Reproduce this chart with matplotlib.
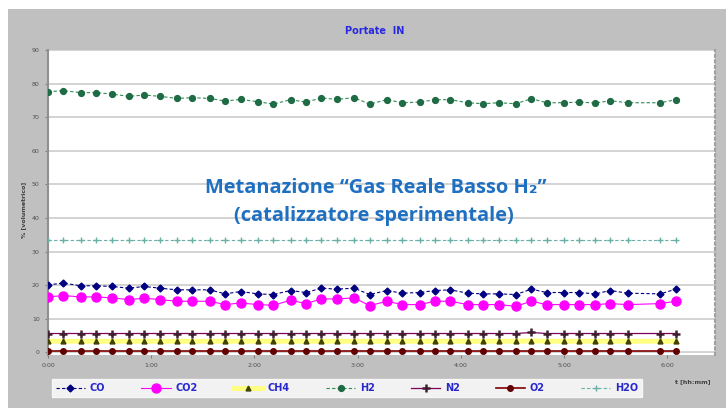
import matplotlib
matplotlib.use("Agg")
import matplotlib.pyplot as plt
from matplotlib.patches import Rectangle
from matplotlib.ticker import FuncFormatter

# sampling times [min] (one sample missing near 5:45)
t_min = [0, 9, 19, 28, 37, 47, 56, 65, 75, 84, 94, 103, 112, 122, 131, 141, 150, 159,
         168, 178, 187, 197, 206, 216, 225, 234, 244, 253, 262, 272, 281, 290, 300, 309,
         318, 327, 337, 356, 365]

co = [20.1, 20.6, 19.8, 19.8, 19.6, 19.1, 19.6, 19.1, 18.6, 18.6, 18.6, 17.4, 18.1, 17.4,
      17.2, 18.4, 17.8, 19.1, 18.8, 19.1, 17.2, 18.4, 17.6, 17.8, 18.4, 18.6, 17.6, 17.4,
      17.4, 17.2, 18.8, 17.8, 17.8, 17.8, 17.4, 18.4, 17.6, 17.4, 18.8]
co2 = [16.5, 16.9, 16.5, 16.5, 16.2, 15.7, 16.1, 15.7, 15.2, 15.2, 15.2, 14.2, 14.7, 14.2,
       14.0, 15.5, 14.5, 15.9, 15.9, 16.2, 13.9, 15.2, 14.2, 14.2, 15.2, 15.2, 14.2, 14.2,
       14.2, 13.7, 15.2, 14.2, 14.2, 14.2, 14.2, 14.5, 14.2, 14.5, 15.2]
ch4 = [3.3, 3.3, 3.3, 3.3, 3.3, 3.3, 3.3, 3.3, 3.3, 3.3, 3.3, 3.3, 3.3, 3.3,
       3.3, 3.3, 3.3, 3.3, 3.3, 3.3, 3.3, 3.3, 3.3, 3.3, 3.3, 3.3, 3.3, 3.3,
       3.3, 3.3, 3.4, 3.3, 3.3, 3.3, 3.3, 3.3, 3.3, 3.3, 3.3]
h2 = [77.6, 77.9, 77.3, 77.3, 76.9, 76.2, 76.6, 76.2, 75.6, 75.8, 75.6, 74.8, 75.3, 74.6,
      73.9, 75.2, 74.5, 75.7, 75.3, 75.8, 73.9, 75.2, 74.3, 74.5, 75.2, 75.2, 74.3, 74.0,
      74.3, 74.0, 75.5, 74.3, 74.3, 74.5, 74.2, 74.9, 74.3, 74.3, 75.2]
n2 = [5.6, 5.6, 5.6, 5.6, 5.6, 5.6, 5.6, 5.6, 5.6, 5.6, 5.6, 5.6, 5.6, 5.6,
      5.6, 5.6, 5.6, 5.6, 5.6, 5.6, 5.6, 5.6, 5.6, 5.6, 5.6, 5.6, 5.6, 5.6,
      5.6, 5.6, 5.9, 5.6, 5.6, 5.6, 5.6, 5.6, 5.6, 5.6, 5.6]
o2 = [0.5, 0.5, 0.5, 0.5, 0.5, 0.5, 0.5, 0.5, 0.5, 0.5, 0.5, 0.5, 0.5, 0.5,
      0.5, 0.5, 0.5, 0.5, 0.5, 0.5, 0.5, 0.5, 0.5, 0.5, 0.5, 0.5, 0.5, 0.5,
      0.5, 0.5, 0.5, 0.5, 0.5, 0.5, 0.5, 0.5, 0.5, 0.5, 0.5]
h2o = [33.5, 33.5, 33.5, 33.5, 33.5, 33.5, 33.5, 33.5, 33.5, 33.5, 33.5, 33.5, 33.5, 33.5,
       33.5, 33.5, 33.5, 33.5, 33.5, 33.5, 33.5, 33.5, 33.5, 33.5, 33.5, 33.5, 33.5, 33.5,
       33.5, 33.5, 33.5, 33.5, 33.5, 33.5, 33.5, 33.5, 33.5, 33.5, 33.5]

hour_ticks = [0, 1, 2, 3, 4, 5, 6]
y_ticks = [0, 10, 20, 30, 40, 50, 60, 70, 80, 90]

t_h = [m / 60 for m in t_min]

fig = plt.figure(figsize=(7.26, 4.08), dpi=100)
fig.patch.set_facecolor("white")
fig.patches.append(Rectangle((8 / 726, 0), 1, 399 / 408, transform=fig.transFigure,
                             facecolor="#c0c0c0", edgecolor="none", zorder=-10))

ax = fig.add_axes([48 / 726, 53 / 408, 667 / 726, 305 / 408])
ax.set_facecolor("white")

ax.plot(t_h, co, color="#000080", ls=(0, (3, 2)), lw=0.8, marker="D", ms=3.5, label="CO", zorder=5)
ax.plot(t_h, co2, color="#ff00ff", ls="-", lw=0.8, marker="o", ms=6.5, label="CO2", zorder=4)
ax.plot(t_h, ch4, color="#ffff80", ls="-", lw=3.5, marker="^", ms=3.5, mfc="#404000", mec="#404000",
        label="CH4", zorder=3)
ax.plot(t_h, h2, color="#2e8b57", ls=(0, (3, 2)), lw=0.8, marker="o", ms=4.2, mfc="#1e6b45",
        mec="#1e6b45", label="H2", zorder=5)
ax.plot(t_h, n2, color="#800060", ls="-", lw=0.9, marker="+", ms=6, mew=1.8, mec="#402030",
        label="N2", zorder=4)
ax.plot(t_h, o2, color="#800000", ls="-", lw=1.2, marker="o", ms=4, mfc="#600000", mec="#600000",
        label="O2", zorder=4)
ax.plot(t_h, h2o, color="#6ab0a8", ls=(0, (3, 2)), lw=0.8, marker="+", ms=5, mew=1,
        label="H2O", zorder=4)

ax.set_xlim(0, 667 / 103.2)
ax.set_ylim(-0.8, 90)
ax.set_yticks(y_ticks)
ax.set_xticks(hour_ticks)
ax.xaxis.set_major_formatter(FuncFormatter(lambda v, p: "%d:00" % v))
ax.tick_params(labelsize=4.5, labelcolor="#505050", length=2, color="#808080", pad=4)
ax.grid(axis="y", color="#cccccc", lw=1.2)
ax.set_axisbelow(True)
for s in ["top", "bottom"]:
    ax.spines[s].set_visible(False)
ax.spines["left"].set_color("#909090")
ax.spines["left"].set_linewidth(1.5)
ax.spines["right"].set_color("#a0a0a0")
ax.spines["right"].set_linestyle(":")
ax.spines["right"].set_linewidth(1.5)

fig.text(375 / 726, 1 - 31 / 408, "Portate  IN", color="#2828e0", fontsize=7,
         fontweight="bold", ha="center", va="center")
fig.text(24 / 726, 1 - 210 / 408, "% [volumetrico]", color="#404040", fontsize=4.5,
         fontweight="bold", rotation=90, ha="center", va="center")
fig.text(693 / 726, 1 - 382 / 408, "t [hh:mm]", color="#404040", fontsize=4.5,
         fontweight="bold", ha="center", va="center")

blue = "#1f70c1"
fig.text(376 / 726, 1 - 188 / 408, "Metanazione “Gas Reale Basso H₂”", color=blue,
         fontsize=14.4, fontweight="bold", ha="center", va="center",
         family=["Open Sans", "DejaVu Sans"])
fig.text(374 / 726, 1 - 216 / 408, "(catalizzatore sperimentale)", color=blue,
         fontsize=14.4, fontweight="bold", ha="center", va="center",
         family=["Open Sans", "DejaVu Sans"])

leg = fig.legend(loc="lower left", bbox_to_anchor=(52 / 726, 11 / 408, 590 / 726, 22 / 408),
                 mode="expand", ncol=7, fontsize=7, frameon=True, fancybox=False,
                 handlelength=3, borderaxespad=0, handletextpad=0.5)
leg.get_frame().set_facecolor("white")
leg.get_frame().set_edgecolor("white")
for txt in leg.get_texts():
    txt.set_color("#2828d0")
    txt.set_fontweight("bold")

fig.savefig("out.png", dpi=100)
